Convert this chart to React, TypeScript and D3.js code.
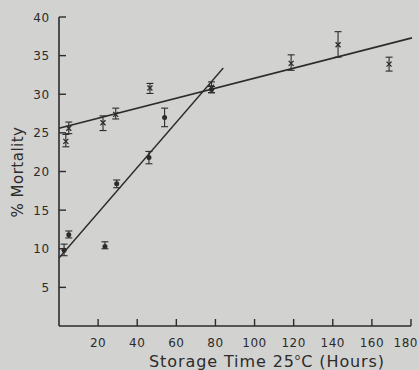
import React from "react";
import * as d3 from "d3";

const xTicks = [20, 40, 60, 80, 100, 120, 140, 160, 180];
const yTicks = [5, 10, 15, 20, 25, 30, 35, 40];

// cross series: time, value, low, high
const crossT = [3.5, 5, 22.5, 29, 46.5, 78, 118.7, 142.7, 168.8];
const crossV = [23.9, 25.6, 26.3, 27.4, 30.8, 30.9, 34.0, 36.4, 33.9];
const crossLo = [23.2, 24.9, 25.3, 26.8, 30.1, 30.2, 33.1, 34.8, 33.0];
const crossHi = [24.8, 26.4, 27.2, 28.2, 31.4, 31.6, 35.1, 38.1, 34.8];

// dot series
const dotT = [2.6, 5, 23.5, 29.5, 46, 54, 78];
const dotV = [9.8, 11.8, 10.3, 18.4, 21.8, 27.0, 30.6];
const dotLo = [9.1, 11.4, 10.0, 17.9, 21.0, 25.8, 30.2];
const dotHi = [10.6, 12.3, 10.9, 18.9, 22.6, 28.2, 31.0];

// fitted lines: [t0, v0, t1, v1]
const steepLine = [0, 8.8, 84, 33.4];
const flatLine = [0, 25.6, 180.5, 37.3];

export default function App() {
  const W = 419, H = 370;
  const x = d3.scaleLinear().domain([0, 180]).range([59, 411]);
  const y = d3.scaleLinear().domain([0, 40]).range([326, 17]);
  const ink = "#2b2b2b";
  const font = "'DejaVu Sans', sans-serif";
  const line = d3.line<[number, number]>().x(d => x(d[0])).y(d => y(d[1]));

  const errBar = (t: number, lo: number, hi: number, k: string) => (
    <g key={k} stroke={ink} strokeWidth={1.1}>
      <line x1={x(t)} x2={x(t)} y1={y(lo)} y2={y(hi)} />
      <line x1={x(t) - 3.5} x2={x(t) + 3.5} y1={y(lo)} y2={y(lo)} />
      <line x1={x(t) - 3.5} x2={x(t) + 3.5} y1={y(hi)} y2={y(hi)} />
    </g>
  );

  return (
    <svg width={W} height={H} style={{ position: "fixed", left: 0, top: 0 }}>
      <rect width={W} height={H} fill="#d2d2d0" />
      {/* axes */}
      <line x1={x(0)} x2={x(0)} y1={y(40)} y2={y(0)} stroke={ink} strokeWidth={1.6} />
      <line x1={x(0)} x2={x(180)} y1={y(0)} y2={y(0)} stroke={ink} strokeWidth={1.6} />
      {yTicks.map(v => (
        <g key={"yt" + v}>
          <line x1={x(0)} x2={x(0) + 7} y1={y(v)} y2={y(v)} stroke={ink} strokeWidth={1.4} />
          <text x={50} y={y(v) + 4.5} textAnchor="end" fontSize={12} fontFamily={font} fill={ink} letterSpacing={0.8}>{v}</text>
        </g>
      ))}
      {xTicks.map(v => (
        <g key={"xt" + v}>
          <line x1={x(v)} x2={x(v)} y1={y(0)} y2={y(0) - 7} stroke={ink} strokeWidth={1.4} />
          <text x={v === 180 ? 418 : x(v)} y={347} textAnchor={v === 180 ? "end" : "middle"} fontSize={12} fontFamily={font} fill={ink} letterSpacing={0.5}>{v}</text>
        </g>
      ))}
      <text x={267} y={367} textAnchor="middle" fontSize={16} fontFamily={font} fill={ink} letterSpacing={0.9}>
        Storage Time 25<tspan dy={-7} fontSize={9}>o</tspan><tspan dy={7}>C (Hours)</tspan>
      </text>
      <text transform="translate(23,172) rotate(-90)" textAnchor="middle" fontSize={15} fontFamily={font} fill={ink} letterSpacing={0.5}>% Mortality</text>
      {/* fitted lines */}
      <path d={line([[steepLine[0], steepLine[1]], [steepLine[2], steepLine[3]]]) || ""} stroke={ink} strokeWidth={1.4} fill="none" />
      <path d={line([[flatLine[0], flatLine[1]], [flatLine[2], flatLine[3]]]) || ""} stroke={ink} strokeWidth={1.6} fill="none" />
      {/* cross series */}
      {crossT.map((t, i) => (
        <g key={"c" + i}>
          {errBar(t, crossLo[i], crossHi[i], "ce" + i)}
          <path d={`M${x(t) - 2.5},${y(crossV[i]) - 2.5}L${x(t) + 2.5},${y(crossV[i]) + 2.5}M${x(t) + 2.5},${y(crossV[i]) - 2.5}L${x(t) - 2.5},${y(crossV[i]) + 2.5}`} stroke={ink} strokeWidth={1.3} />
        </g>
      ))}
      {/* dot series */}
      {dotT.map((t, i) => (
        <g key={"d" + i}>
          {errBar(t, dotLo[i], dotHi[i], "de" + i)}
          <circle cx={x(t)} cy={y(dotV[i])} r={2.5} fill={ink} />
        </g>
      ))}
    </svg>
  );
}
